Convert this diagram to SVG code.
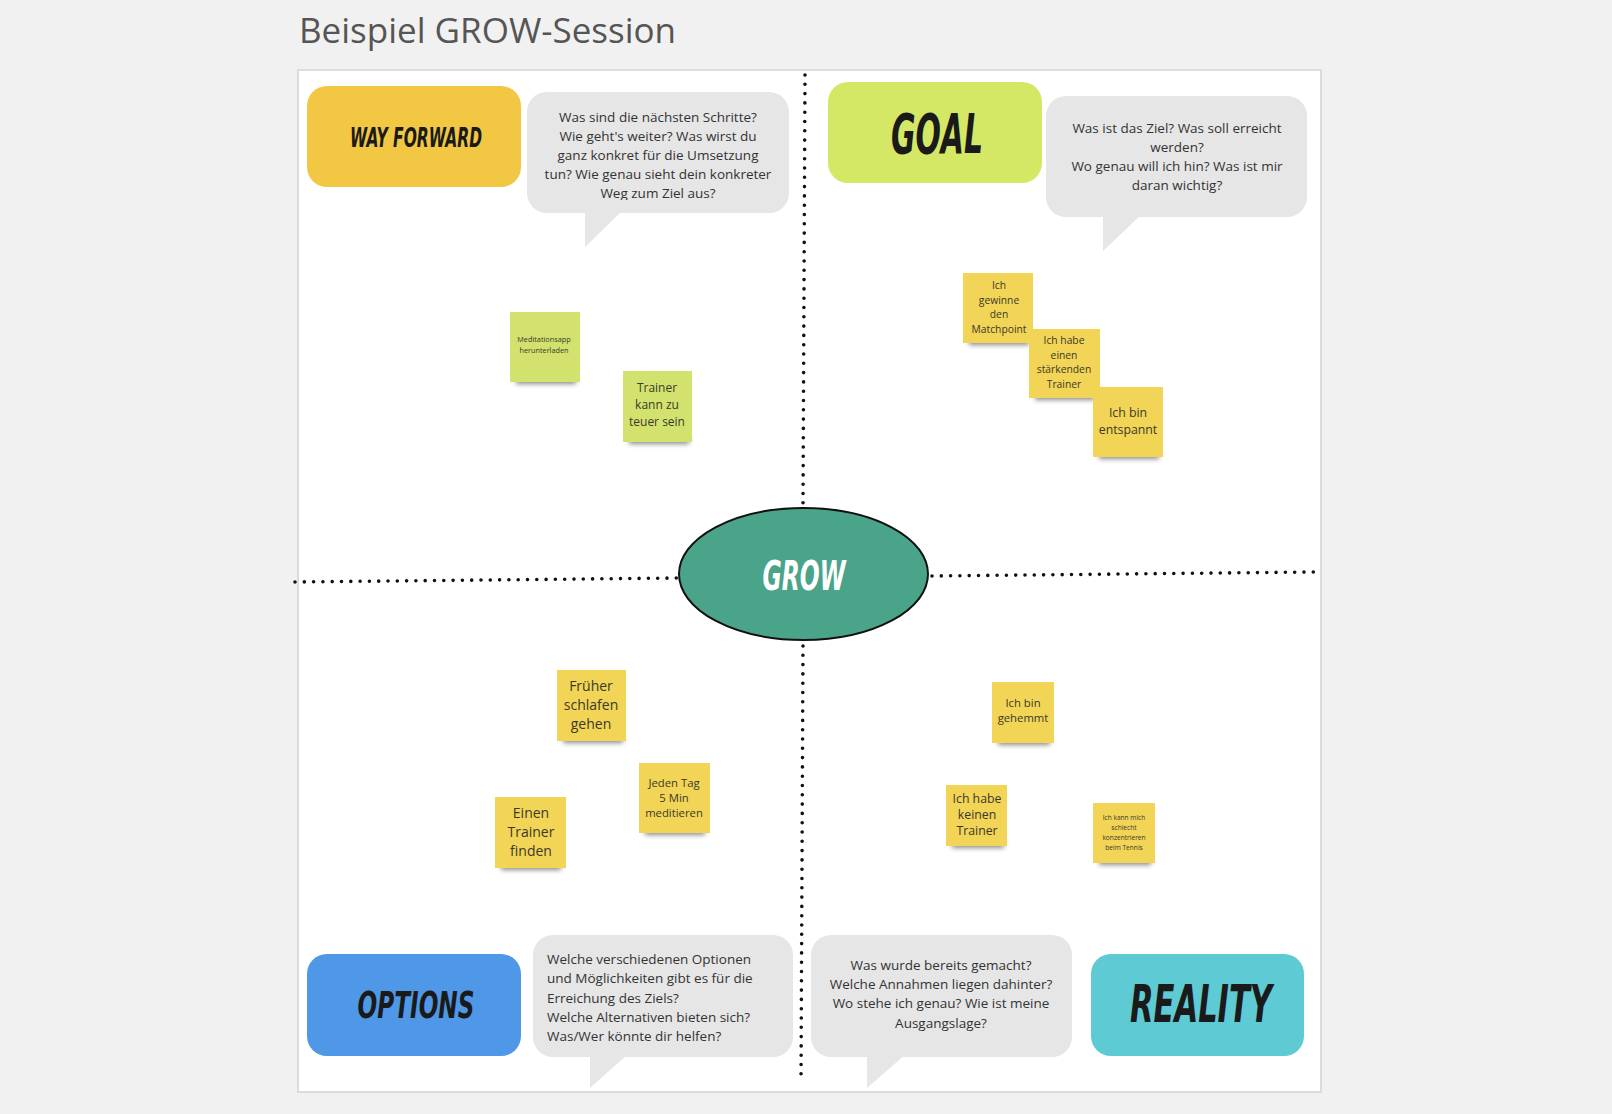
<svg xmlns="http://www.w3.org/2000/svg" width="1612" height="1114" viewBox="0 0 1612 1114">
<defs>
<style>
.bg{fill:#f1f1f1}
.board{fill:#ffffff;stroke:#dcdcdc;stroke-width:2}
.title{font-family:"Open Sans","Liberation Sans",sans-serif;font-size:35px;fill:#555555}
.label{font-family:"DejaVu Sans Condensed","DejaVu Sans",sans-serif;font-weight:bold;font-style:italic;fill:#1a1a1a;text-anchor:middle}
.bubble{fill:#e6e6e6}
.btxt{font-family:"Open Sans","Liberation Sans",sans-serif;font-size:13.5px;fill:#333333}
.ntxt{font-family:"Open Sans","Liberation Sans",sans-serif;fill:#3a3a2a;text-anchor:middle}
.yel{fill:#f2d457}
.grn{fill:#d3e26e}
.shadow{fill:#000;opacity:.45;filter:url(#blur)}
.dots{fill:none;stroke:#111;stroke-width:3.6;stroke-linecap:round;stroke-dasharray:0 9.3}
</style>
<filter id="blur" x="-20%" y="-100%" width="140%" height="300%"><feGaussianBlur stdDeviation="2.5"/></filter>
<clipPath id="wfclip"><rect x="527" y="92" width="262" height="108"/></clipPath>
</defs>
<rect class="bg" x="0" y="0" width="1612" height="1114"/>
<text class="title" x="299" y="43">Beispiel GROW-Session</text>
<rect class="board" x="298" y="70" width="1023" height="1022"/>

<g id="connectors">
<path class="dots" d="M805 75 L803 505"/>
<path class="dots" d="M803 646 L801 1083"/>
<path class="dots" d="M295 582 L679 578"/>
<path class="dots" d="M932 576 L1314 572"/>
</g>

<g id="way-forward">
<rect x="307" y="86" width="214" height="101" rx="20" fill="#f2c744"/>
<text class="label" x="416" y="147" font-size="26" textLength="132" lengthAdjust="spacingAndGlyphs">WAY FORWARD</text>
</g>
<g id="way-forward-question">
<rect class="bubble" x="527" y="92" width="262" height="121" rx="20"/>
<polygon class="bubble" points="585,210 623,210 585,247"/>
<g clip-path="url(#wfclip)" text-anchor="middle">
<text class="btxt" x="658" y="122">Was sind die nächsten Schritte?</text>
<text class="btxt" x="658" y="141">Wie geht's weiter? Was wirst du</text>
<text class="btxt" x="658" y="160">ganz konkret für die Umsetzung</text>
<text class="btxt" x="658" y="179">tun? Wie genau sieht dein konkreter</text>
<text class="btxt" x="658" y="198">Weg zum Ziel aus?</text>
</g>
</g>

<g id="goal">
<rect x="828" y="82" width="214" height="101" rx="20" fill="#d5e865"/>
<text class="label" x="937" y="153" font-size="56" textLength="92" lengthAdjust="spacingAndGlyphs">GOAL</text>
</g>
<g id="goal-question">
<rect class="bubble" x="1046" y="96" width="261" height="121" rx="20"/>
<polygon class="bubble" points="1103,214 1142,214 1103,251"/>
<g text-anchor="middle">
<text class="btxt" x="1177" y="133">Was ist das Ziel? Was soll erreicht</text>
<text class="btxt" x="1177" y="152">werden?</text>
<text class="btxt" x="1177" y="171">Wo genau will ich hin? Was ist mir</text>
<text class="btxt" x="1177" y="190">daran wichtig?</text>
</g>
</g>

<g id="note-meditationsapp">
<rect class="shadow" x="516" y="376" width="60" height="8"/>
<rect class="grn" x="510" y="312" width="70" height="70"/>
<text class="ntxt" font-size="7.3"><tspan x="544" y="342">Meditationsapp</tspan><tspan x="544" y="353">herunterladen</tspan></text>
</g>
<g id="note-trainer-teuer">
<rect class="shadow" x="629" y="436" width="60" height="8"/>
<rect class="grn" x="623" y="371" width="69" height="71"/>
<text class="ntxt" font-size="12"><tspan x="657" y="392">Trainer</tspan><tspan x="657" y="409">kann zu</tspan><tspan x="657" y="426">teuer sein</tspan></text>
</g>

<g id="note-matchpoint">
<rect class="shadow" x="969" y="337" width="60" height="8"/>
<rect class="yel" x="963" y="273" width="70" height="70"/>
<text class="ntxt" font-size="10.3"><tspan x="999" y="289">Ich</tspan><tspan x="999" y="304">gewinne</tspan><tspan x="999" y="318">den</tspan><tspan x="999" y="333">Matchpoint</tspan></text>
</g>
<g id="note-trainer-staerkend">
<rect class="shadow" x="1035" y="392" width="60" height="8"/>
<rect class="yel" x="1029" y="329" width="71" height="69"/>
<text class="ntxt" font-size="10.3"><tspan x="1064" y="344">Ich habe</tspan><tspan x="1064" y="359">einen</tspan><tspan x="1064" y="373">stärkenden</tspan><tspan x="1064" y="388">Trainer</tspan></text>
</g>
<g id="note-entspannt">
<rect class="shadow" x="1099" y="451" width="60" height="8"/>
<rect class="yel" x="1093" y="387" width="70" height="70"/>
<text class="ntxt" font-size="12.3"><tspan x="1128" y="417">Ich bin</tspan><tspan x="1128" y="434">entspannt</tspan></text>
</g>

<g id="grow">
<ellipse cx="803.5" cy="574" rx="124.5" ry="66" fill="#4aa48a" stroke="#111" stroke-width="2"/>
<text class="label" x="804" y="590" font-size="41" style="fill:#ffffff" textLength="83" lengthAdjust="spacingAndGlyphs">GROW</text>
</g>

<g id="note-frueher-schlafen">
<rect class="shadow" x="563" y="735" width="60" height="8"/>
<rect class="yel" x="557" y="670" width="69" height="71"/>
<text class="ntxt" font-size="14"><tspan x="591" y="691">Früher</tspan><tspan x="591" y="710">schlafen</tspan><tspan x="591" y="729">gehen</tspan></text>
</g>
<g id="note-meditieren">
<rect class="shadow" x="645" y="827" width="60" height="8"/>
<rect class="yel" x="639" y="763" width="71" height="70"/>
<text class="ntxt" font-size="11.3"><tspan x="674" y="787">Jeden Tag</tspan><tspan x="674" y="802">5 Min</tspan><tspan x="674" y="817">meditieren</tspan></text>
</g>
<g id="note-trainer-finden">
<rect class="shadow" x="501" y="862" width="60" height="8"/>
<rect class="yel" x="495" y="797" width="71" height="71"/>
<text class="ntxt" font-size="14"><tspan x="531" y="818">Einen</tspan><tspan x="531" y="837">Trainer</tspan><tspan x="531" y="856">finden</tspan></text>
</g>

<g id="note-gehemmt">
<rect class="shadow" x="998" y="737" width="52" height="8"/>
<rect class="yel" x="992" y="682" width="62" height="61"/>
<text class="ntxt" font-size="11.3"><tspan x="1023" y="707">Ich bin</tspan><tspan x="1023" y="722">gehemmt</tspan></text>
</g>
<g id="note-kein-trainer">
<rect class="shadow" x="952" y="840" width="52" height="8"/>
<rect class="yel" x="946" y="785" width="61" height="61"/>
<text class="ntxt" font-size="12.3"><tspan x="977" y="803">Ich habe</tspan><tspan x="977" y="819">keinen</tspan><tspan x="977" y="835">Trainer</tspan></text>
</g>
<g id="note-konzentrieren">
<rect class="shadow" x="1099" y="857" width="52" height="8"/>
<rect class="yel" x="1093" y="803" width="62" height="60"/>
<text class="ntxt" font-size="6.6"><tspan x="1124" y="820">Ich kann mich</tspan><tspan x="1124" y="830">schlecht</tspan><tspan x="1124" y="840">konzentrieren</tspan><tspan x="1124" y="850">beim Tennis</tspan></text>
</g>

<g id="options">
<rect x="307" y="954" width="214" height="102" rx="20" fill="#4f97e7"/>
<text class="label" x="416" y="1018" font-size="38" textLength="117" lengthAdjust="spacingAndGlyphs">OPTIONS</text>
</g>
<g id="options-question">
<rect class="bubble" x="533" y="935" width="260" height="122" rx="20"/>
<polygon class="bubble" points="590,1054 628,1054 590,1088"/>
<text class="btxt" x="547" y="964">Welche verschiedenen Optionen</text>
<text class="btxt" x="547" y="983">und Möglichkeiten gibt es für die</text>
<text class="btxt" x="547" y="1003">Erreichung des Ziels?</text>
<text class="btxt" x="547" y="1022">Welche Alternativen bieten sich?</text>
<text class="btxt" x="547" y="1041">Was/Wer könnte dir helfen?</text>
</g>

<g id="reality-question">
<rect class="bubble" x="811" y="935" width="261" height="122" rx="20"/>
<polygon class="bubble" points="867,1054 906,1054 867,1088"/>
<g text-anchor="middle">
<text class="btxt" x="941" y="970">Was wurde bereits gemacht?</text>
<text class="btxt" x="941" y="989">Welche Annahmen liegen dahinter?</text>
<text class="btxt" x="941" y="1008">Wo stehe ich genau? Wie ist meine</text>
<text class="btxt" x="941" y="1028">Ausgangslage?</text>
</g>
</g>
<g id="reality">
<rect x="1091" y="954" width="213" height="102" rx="20" fill="#5ecad3"/>
<text class="label" x="1201" y="1022" font-size="51" textLength="142" lengthAdjust="spacingAndGlyphs">REALITY</text>
</g>
</svg>
